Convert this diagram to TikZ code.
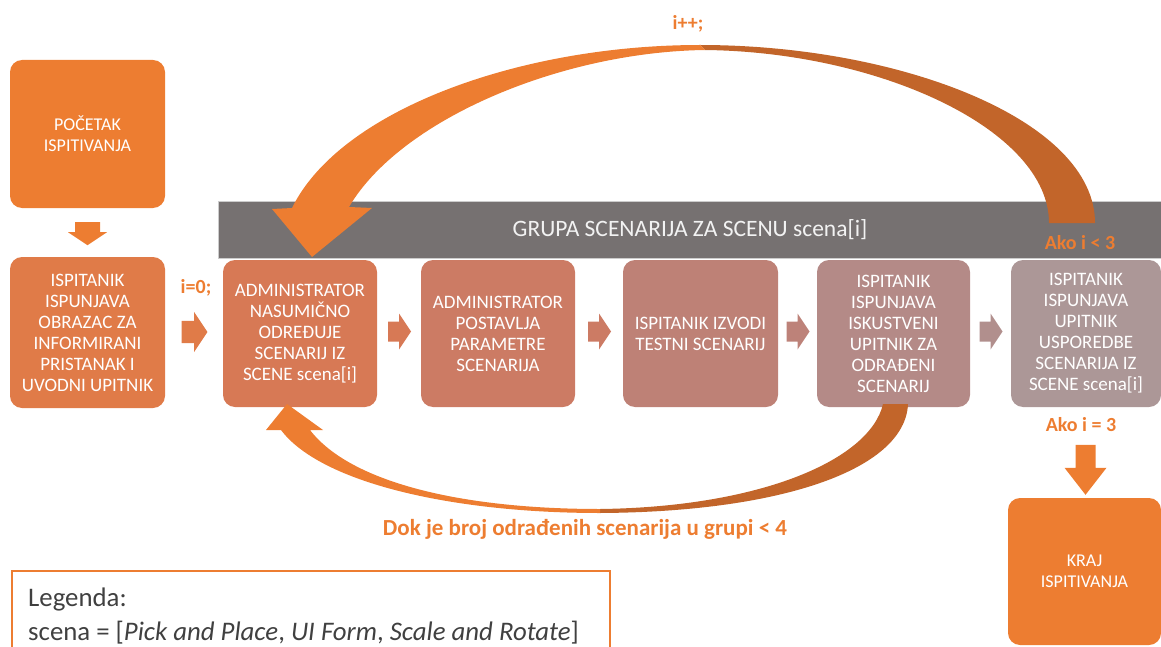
\documentclass[tikz,border=0pt]{standalone}
\usepackage{fontspec}
\setmainfont{Carlito}
\usetikzlibrary{calc}

\definecolor{orA}{HTML}{ED7D31}
\definecolor{orDark}{HTML}{C2652A}
\definecolor{cB0}{HTML}{E07B48}
\definecolor{cB1}{HTML}{D77955}
\definecolor{cB2}{HTML}{CC7B64}
\definecolor{cB3}{HTML}{BE8176}
\definecolor{cB4}{HTML}{B48A87}
\definecolor{cB5}{HTML}{AC9797}
\definecolor{barGray}{HTML}{767171}
\definecolor{legText}{HTML}{404040}

\begin{document}
\begin{tikzpicture}[x=1pt,y=-1pt,
  stepbox/.style={rounded corners=12pt, minimum width=154pt, minimum height=147pt,
    inner sep=0pt, text=white, align=center, font=\fontsize{19}{21}\selectfont},
  endbox/.style={stepbox, fill=orA, font=\fontsize{18}{21}\selectfont},
  lbl/.style={text=orA, inner sep=0pt, font=\bfseries\fontsize{20}{24}\selectfont},
  legendtxt/.style={anchor=base west, inner sep=0pt, text=legText, font=\fontsize{26.8}{30}\selectfont},
  rarrow/.pic={\fill (-11,-10) -- (0,-10) -- (0,-18) -- (12,0) -- (0,18) -- (0,10) -- (-11,10) -- cycle;}
]
\useasboundingbox (0,0) rectangle (1161,647);
\clip (0,0) rectangle (1161,647);

% group band
\node[fill=barGray, draw=gray!40, line width=1pt, anchor=north west, minimum width=943pt,
      minimum height=57pt, inner sep=0pt, text=white!95!black,
      font=\fontsize{23.5}{28}\selectfont] (bar) at (218,201) {GRUPA SCENARIJA ZA SCENU scena[i]};

% start and consent
\node[endbox, minimum width=155pt, minimum height=148pt] (start) at (87.5,134) {POČETAK\\ISPITIVANJA};
\node[stepbox, fill=cB0, minimum width=155pt, minimum height=151pt] (consent) at (87.5,332.5)
  {ISPITANIK\\ISPUNJAVA\\OBRAZAC ZA\\INFORMIRANI\\PRISTANAK I\\UVODNI UPITNIK};

% scenario steps
\node[stepbox, fill=cB1] (b1) at (300,333.5) {ADMINISTRATOR\\NASUMIČNO\\ODREĐUJE\\SCENARIJ IZ\\SCENE scena[i]};
\node[stepbox, fill=cB2] (b2) at (498,333.5) {ADMINISTRATOR\\POSTAVLJA\\PARAMETRE\\SCENARIJA};
\node[stepbox, fill=cB3, minimum width=155pt] (b3) at (700.5,333.5) {ISPITANIK IZVODI\\TESTNI SCENARIJ};
\node[stepbox, fill=cB4, minimum width=153pt] (b4) at (893.5,333.5) {ISPITANIK\\ISPUNJAVA\\ISKUSTVENI\\UPITNIK ZA\\ODRAĐENI\\SCENARIJ};
\node[stepbox, fill=cB5, minimum width=150pt] (b5) at (1086,333.5) {ISPITANIK\\ISPUNJAVA\\UPITNIK\\USPOREDBE\\SCENARIJA IZ\\SCENE scena[i]};

% end
\node[endbox, minimum width=153pt, minimum height=147pt] (kraj) at (1084.5,571.5) {KRAJ\\ISPITIVANJA};

% straight block arrows
\fill[orA] (start.south) ++(-12.5,14) -- ++(25,0) -- ++(0,10) -- ++(7,0) -- ++(-19.5,13)
  -- ++(-19.5,-13) -- ++(7,0) -- cycle;
\pic[fill=cB0, scale=1.12] at ($(consent.east)!0.5!(b1.west)+(0,-1)$) {rarrow};
\pic[fill=cB1] at ($(b1.east)!0.5!(b2.west)+(0,-2)$) {rarrow};
\pic[fill=cB2] at ($(b2.east)!0.5!(b3.west)+(0,-2)$) {rarrow};
\pic[fill=cB3!85!cB4] at ($(b3.east)!0.5!(b4.west)+(0,-2)$) {rarrow};
\pic[fill=cB4!60!cB5] at ($(b4.east)!0.5!(b5.west)+(0,-2)$) {rarrow};
\fill[orA] (kraj.north) ++(1,-3) -- ++(-21,-27) -- ++(11,0) -- ++(0,-23) -- ++(20,0)
  -- ++(0,23) -- ++(11,0) -- cycle;

% outer loop over scenes: tail above b5, head onto b1
\coordinate (topTip) at (312,257);
\fill[orDark] (700,45) .. controls (900,45) and (1095,120) .. (1095,223) -- (1049,223)
  .. controls (1049,130) and (880,52) .. (705,50) -- cycle;
\fill[orA] (700,45) .. controls (520,45) and (340,110) .. (292,208) -- (272,209) -- (topTip)
  -- (372,208) -- (349,207) .. controls (400,120) and (560,52) .. (705,50) -- cycle;

% inner loop over scenarios: tail below b4, head onto b1
\coordinate (lowTip) at (287,404);
\fill[orDark] (908,404) .. controls (905,470) and (780,512) .. (600,513) -- (600,509)
  .. controls (760,507) and (870,460) .. (883,404) -- cycle;
\fill[orA] (600,513) .. controls (450,513) and (320,482) .. (281,430) -- (266,430) -- (lowTip)
  -- (323,430) -- (310,430) .. controls (350,482) and (460,509) .. (600,509) -- cycle;

% conditions
\node[lbl] (inc) at (688,24) {i++;};
\node[lbl] (init) at (196,288) {i=0;};
\node[lbl] (less) at (1080,243) {Ako i < 3};
\node[lbl] (equal) at (1081,425) {Ako i = 3};
\node[lbl, font=\bfseries\fontsize{23}{26}\selectfont] (loop) at (585,529) {Dok je broj odrađenih scenarija u grupi < 4};

% legend
\draw[orA, line width=2.5pt] (12,571) rectangle (610,700);
\node[legendtxt] (leg1) at (28,606) {Legenda:};
\node[legendtxt] (leg2) at (28,640) {scena = [\textit{Pick and Place}, \textit{UI Form}, \textit{Scale and Rotate}]};
\end{tikzpicture}
\end{document}
